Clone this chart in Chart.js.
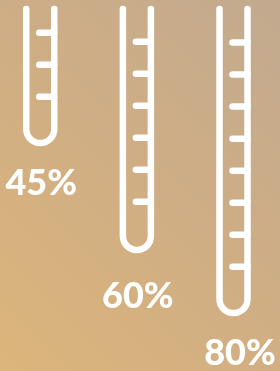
<!DOCTYPE html>
<html>
<head>
<meta charset="utf-8">
<script src="https://cdn.jsdelivr.net/npm/chart.js@4"></script>
<style>
    html, body { margin: 0; padding: 0; }
    body {
        width: 280px; height: 371px; overflow: hidden;
        background: linear-gradient(45deg, #dcb57b 0%, #d0ae84 50%, #c2aa8f 100%);
    }
    #wrap { position: relative; width: 280px; height: 371px; }
</style>
</head>
<body>
<div id="wrap"><canvas id="tubosChart"></canvas></div>
<script>
// dados
const rotulos = ['45%', '60%', '80%'];
const valores = [45, 60, 80];
// profundidade de cada tubo, em unidades de graduação (topo = 0)
const profundidades = [4.19, 7.53, 9.5];
const primeiraMarca = [0.74, 1.02, 1.05];
const qtdMarcas = [3, 6, 8];

document.addEventListener('DOMContentLoaded', function() {
    const raio = 14;
    const espessura = 6.5;
    // ajuste fino dos rótulos (px)
    const rotuloDx = [1, 1, 6.5];
    const rotuloDy = [40.5, 46.5, 40.5];

    // desenha os tubos de ensaio a partir dos pontos do dataset
    const tubosPlugin = {
        id: 'tubos',
        afterDatasetsDraw(chart) {
            const ctx = chart.ctx;
            const y = chart.scales.y;
            const pontos = chart.getDatasetMeta(0).data;
            ctx.save();
            ctx.strokeStyle = '#ffffff';
            ctx.fillStyle = '#ffffff';
            ctx.lineWidth = espessura;
            ctx.lineCap = 'round';
            ctx.lineJoin = 'round';
            pontos.forEach((p, i) => {
                const topo = y.getPixelForValue(0);
                const fundo = p.y;
                ctx.beginPath();
                ctx.moveTo(p.x - raio, topo);
                ctx.lineTo(p.x - raio, fundo - raio);
                ctx.arc(p.x, fundo - raio, raio, Math.PI, 0, true);
                ctx.lineTo(p.x + raio, topo);
                ctx.stroke();

                for (let k = 0; k < qtdMarcas[i]; k++) {
                    const ym = y.getPixelForValue(primeiraMarca[i] + k);
                    ctx.beginPath();
                    ctx.moveTo(p.x - 1, ym);
                    ctx.lineTo(p.x + raio, ym);
                    ctx.stroke();
                }

                ctx.font = '900 36px Lato';
                ctx.textAlign = 'center';
                ctx.textBaseline = 'middle';
                ctx.fillText(valores[i] + '%', p.x + rotuloDx[i], fundo + rotuloDy[i]);
            });
            ctx.restore();
        }
    };

    const ctx = document.getElementById('tubosChart').getContext('2d');
    new Chart(ctx, {
        type: 'scatter',
        data: {
            labels: rotulos,
            datasets: [{
                data: profundidades.map((d, i) => ({ x: i + 1, y: d })),
                pointRadius: 0,
                showLine: false
            }]
        },
        options: {
            responsive: true,
            maintainAspectRatio: false,
            animation: false,
            layout: { padding: { top: 9, left: 0, right: 0, bottom: 0 } },
            plugins: { legend: { display: false }, tooltip: { enabled: false } },
            scales: {
                x: { type: 'linear', min: 0.5834, max: 3.4812, display: false },
                y: { type: 'linear', min: 0, max: 11.31, reverse: true, display: false }
            }
        },
        plugins: [tubosPlugin]
    });
});
</script>
</body>
</html>
